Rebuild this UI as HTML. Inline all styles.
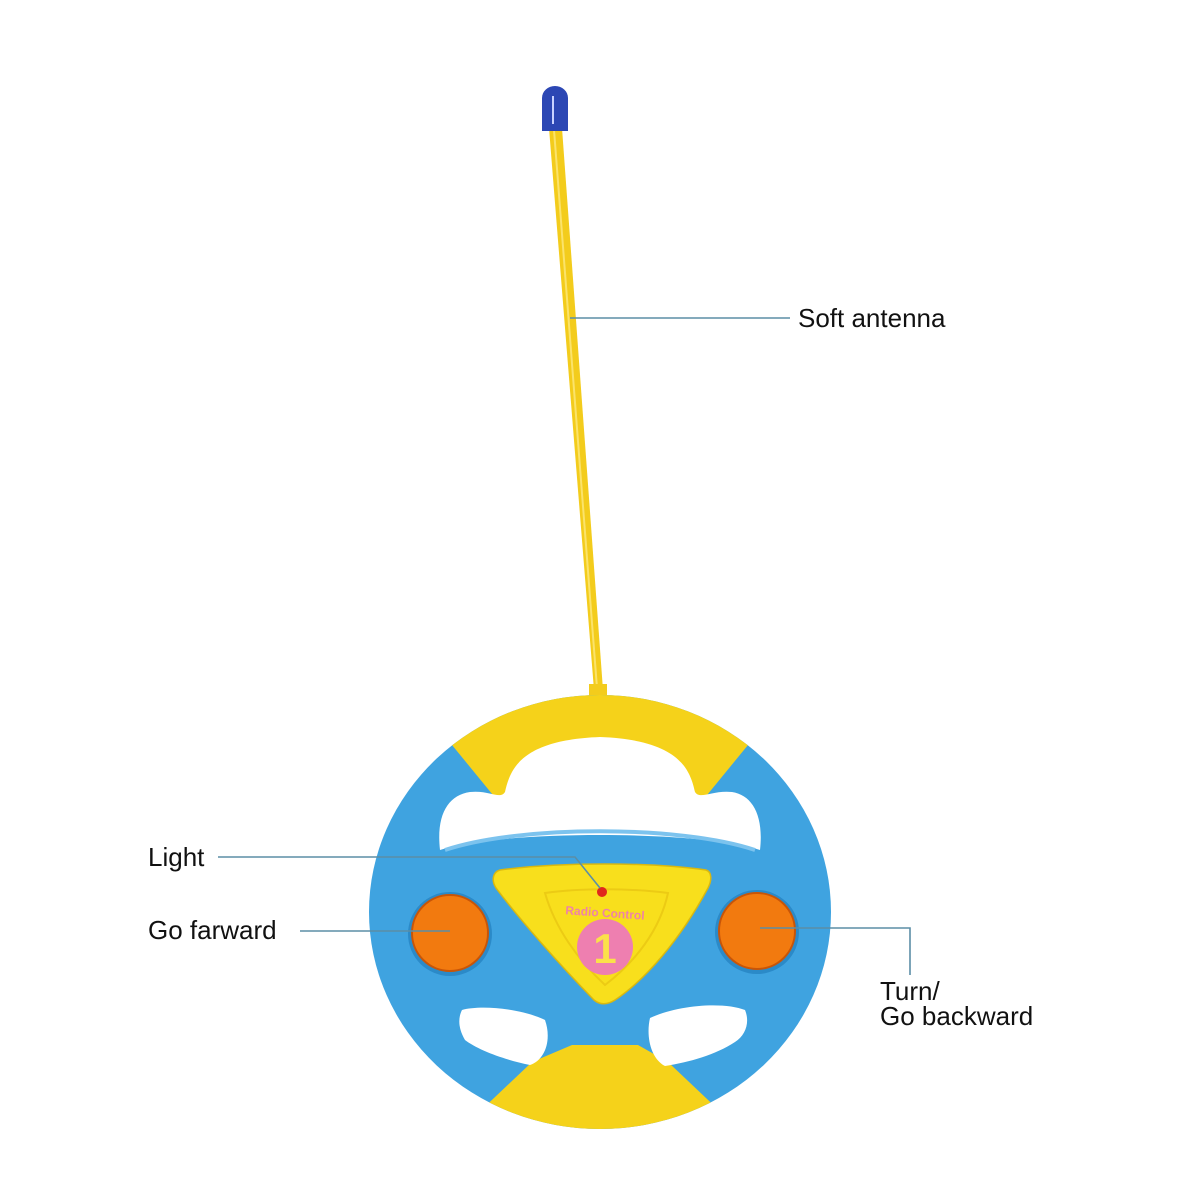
<!DOCTYPE html>
<html><head><meta charset="utf-8"><style>
html,body{margin:0;padding:0;background:#fff;}
svg{display:block}
text{font-family:"Liberation Sans",Arial,sans-serif}
</style></head><body>
<svg width="1200" height="1200" viewBox="0 0 1200 1200" xmlns="http://www.w3.org/2000/svg">
<rect width="1200" height="1200" fill="#fff"/>
<polygon points="549,128 562,128 603,690 594,690" fill="#f3cc1c"/>
<line x1="554" y1="130" x2="597" y2="688" stroke="#fbe36a" stroke-width="2"/>
<rect x="542" y="86" width="26" height="45" rx="13" ry="12" fill="#2c47b4"/>
<rect x="542" y="110" width="26" height="21" fill="#2c47b4"/>
<line x1="553" y1="96" x2="553" y2="124" stroke="#c8d2ff" stroke-width="2"/>
<rect x="589" y="684" width="18" height="18" fill="#f3cc1c"/>
<defs>
<clipPath id="w"><ellipse cx="600" cy="912" rx="231" ry="217"/></clipPath>
</defs>
<ellipse cx="600" cy="912" rx="231" ry="217" fill="#3fa3e0"/>
<g clip-path="url(#w)">
<polygon points="497,800 452,745 420,680 780,680 748,745 703,800" fill="#f5d21a"/>
<polygon points="572,1045 638,1045 668,1062 745,1135 455,1135 532,1062" fill="#f5d21a"/>
</g>
<path d="M440,850 C436,815 448,795 470,792 C490,790 500,800 505,792 C510,770 520,740 600,737 C680,740 690,770 695,792 C700,800 712,790 732,792 C752,795 764,815 760,850 C700,830 500,830 440,850 Z" fill="#fff"/>
<path d="M445,850 C520,825 680,825 755,850" fill="none" stroke="#7cc3ee" stroke-width="4"/>
<path d="M462,1010 C480,1005 520,1008 545,1020 C552,1040 545,1060 530,1065 C505,1060 478,1050 465,1040 C458,1028 458,1018 462,1010 Z" fill="#fff"/>
<path d="M650,1018 C680,1004 725,1002 745,1010 C750,1022 746,1035 735,1042 C715,1055 690,1062 665,1066 C650,1058 646,1035 650,1018 Z" fill="#fff"/>
<path d="M500,870 C560,862 650,862 706,870 C712,872 712,880 708,888 C680,940 645,980 615,1000 C607,1005 600,1005 594,1000 C560,965 520,920 496,888 C491,880 493,872 500,870 Z" fill="#f8df1c" stroke="#d9b80f" stroke-width="1.5"/>
<path d="M545,893 C580,888 630,888 668,893 C660,930 635,962 605,985 C578,960 555,928 545,893 Z" fill="none" stroke="#eccb14" stroke-width="2"/>
<circle cx="602" cy="892" r="5" fill="#e0281c"/>
<text x="605" y="917" font-size="12" font-weight="bold" fill="#ef83a6" text-anchor="middle" transform="rotate(4 605 913)">Radio Control</text>
<circle cx="605" cy="947" r="28" fill="#ee7fb0"/>
<text x="605" y="963" font-size="42" font-weight="bold" fill="#fbe14a" text-anchor="middle">1</text>
<circle cx="450" cy="934" r="42" fill="#2b8ac8"/>
<circle cx="450" cy="933" r="38" fill="#f27a0f" stroke="#c85508" stroke-width="2"/>
<circle cx="757" cy="932" r="42" fill="#2b8ac8"/>
<circle cx="757" cy="931" r="38" fill="#f27a0f" stroke="#c85508" stroke-width="2"/>
<g stroke="#5b8ea6" stroke-width="1.6" fill="none">
<line x1="570" y1="318" x2="790" y2="318"/>
<polyline points="218,857 575,857 600,888"/>
<line x1="300" y1="931" x2="450" y2="931"/>
<polyline points="760,928 910,928 910,975"/>
</g>
<g font-size="26" fill="#111">
<text x="798" y="327">Soft antenna</text>
<text x="148" y="866">Light</text>
<text x="148" y="939">Go farward</text>
<text x="880" y="1000">Turn/</text>
<text x="880" y="1025">Go backward</text>
</g>
</svg>
</body></html>
